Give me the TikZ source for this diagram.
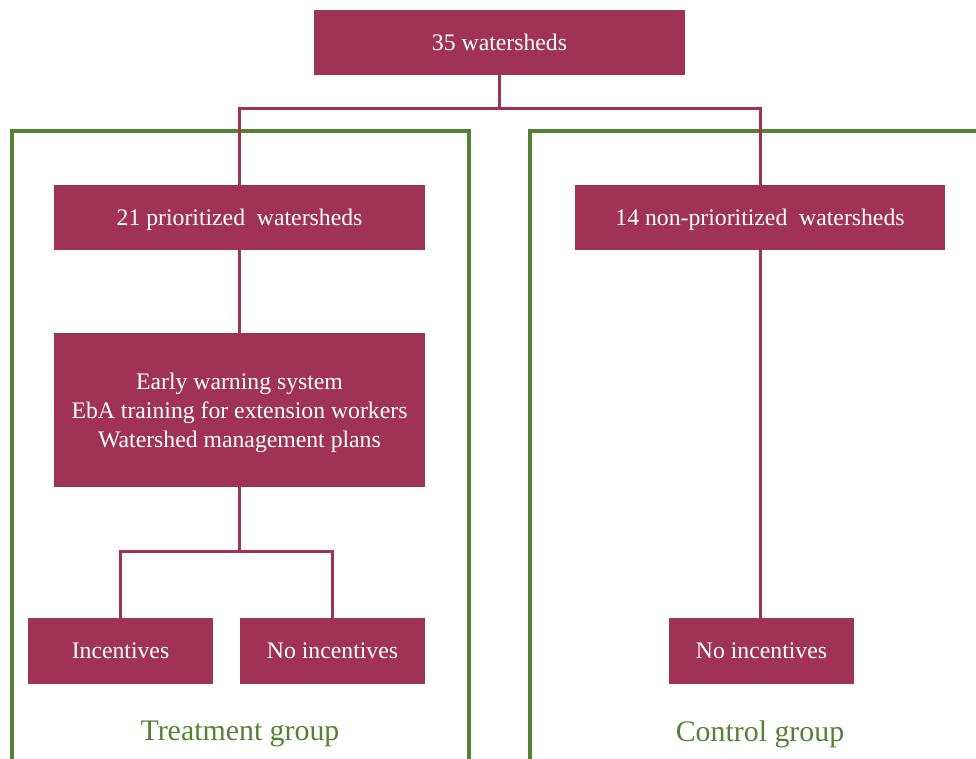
\documentclass[tikz,border=0pt]{standalone}
\usepackage{fontspec}
\setmainfont{Liberation Serif}
\usetikzlibrary{positioning}

\definecolor{wine}{HTML}{A03355}
\definecolor{leaf}{HTML}{548235}

\begin{document}
\begin{tikzpicture}[
  x=0.02cm,y=-0.02cm,
  box/.style={fill=wine,text=white,minimum width=7.42cm,minimum height=1.3cm,
    inner sep=0pt,align=center,text depth=0pt,font=\fontsize{13.5}{16.5}\selectfont},
  smallbox/.style={box,minimum width=3.7cm,minimum height=1.32cm},
  link/.style={draw=wine,line width=1.7pt},
  frame/.style={draw=leaf,line width=2.3pt},
  grouplabel/.style={text=leaf,font=\fontsize{17}{20}\selectfont}
]
  \useasboundingbox (0,0) rectangle (976,758);

  % group frames (open at the bottom)
  \draw[frame] (12,765) -- (12,131) -- (469,131) -- (469,765);
  \draw[frame] (530,765) -- (530,131) -- (985,131);

  \node[box] (all) at (499.5,42.5) {35 watersheds};
  \node[box] (prio) at (239.5,217.5) {21 prioritized\ \ watersheds};
  \node[box] (nonprio) at (760,217.5) {14 non-prioritized\ \ watersheds};
  \node[box,minimum height=3.08cm] (measures) at (239.5,410)
    {Early warning system\\EbA training for extension workers\\Watershed management plans};
  \node[smallbox] (incent) at (120.5,651) {Incentives};
  \node[smallbox] (noinc) at (332.5,651) {No incentives};
  \node[smallbox] (ctrlnoinc) at (761.5,651) {No incentives};

  \node[grouplabel] (treat) at (240,734) {Treatment group};
  \node[grouplabel] (ctrl) at (760,734) {Control group};

  % connectors
  \draw[link] (all.south) -- ++(0,33) coordinate (split) -| (prio.north);
  \draw[link] (split) -| (nonprio.north);
  \draw[link] (prio) -- (measures);
  \draw[link] (measures.south) -- ++(0,64) coordinate (fork) -| (incent.north);
  \draw[link] (fork) -| (noinc.north);
  \draw[link] (nonprio.south) -- (nonprio.south |- ctrlnoinc.north);
\end{tikzpicture}
\end{document}
